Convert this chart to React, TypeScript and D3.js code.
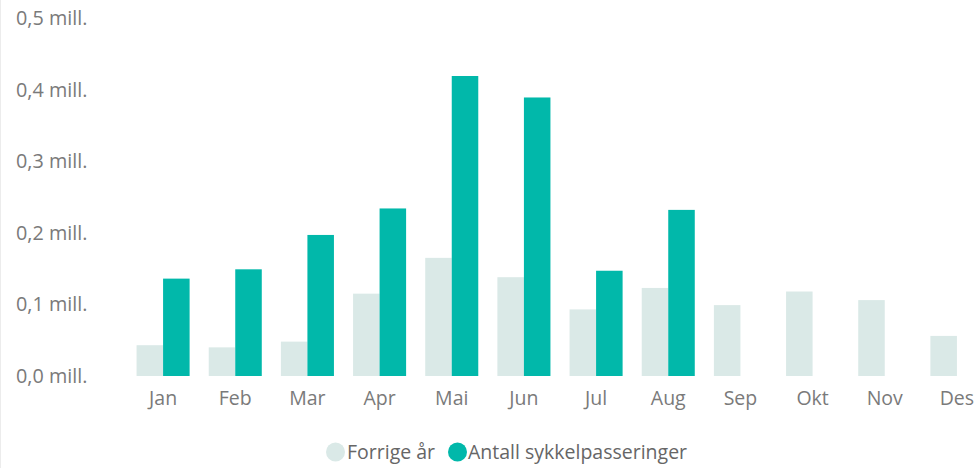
import React from 'react';
import * as d3 from 'd3';

const months = ['Jan', 'Feb', 'Mar', 'Apr', 'Mai', 'Jun', 'Jul', 'Aug', 'Sep', 'Okt', 'Nov', 'Des'];
// values in millions
const prevYear = [0.043, 0.040, 0.048, 0.115, 0.165, 0.138, 0.093, 0.123, 0.099, 0.118, 0.106, 0.056];
const current: (number | null)[] = [0.136, 0.149, 0.197, 0.234, 0.419, 0.389, 0.147, 0.232, null, null, null, null];
const yTicks = [0, 0.1, 0.2, 0.3, 0.4, 0.5];
const seriesNames = ['Forrige år', 'Antall sykkelpasseringer'];

const W = 979;
const H = 468;
const colPrev = '#dae9e7';
const colCur = '#01b8aa';
const font = '"Segoe UI", "Open Sans", sans-serif';

export default function App() {
  const x = d3.scaleBand<string>()
    .domain(months)
    .range([127, 993])
    .paddingInner(0.265)
    .paddingOuter(0.1325);

  const sub = d3.scaleBand<string>()
    .domain(['prev', 'cur'])
    .range([0, x.bandwidth()]);

  const y = d3.scaleLinear().domain([0, 0.5]).range([376, 18]);

  const fmt = (v: number) => v.toFixed(1).replace('.', ',') + ' mill.';

  return (
    <div style={{ position: 'fixed', left: 0, top: 0, width: W, height: H, background: '#fff' }}>
      <svg width={W} height={H} style={{ display: 'block', fontFamily: font }}>
        <line x1={0.5} y1={0} x2={0.5} y2={H} stroke="#ececec" />

        {/* y axis labels */}
        {yTicks.map(t => (
          <text key={t} x={16} y={y(t)} dy="0.35em" fontSize={19.8} fill="#7a7a7a">
            {fmt(t)}
          </text>
        ))}

        {/* previous year bars */}
        {months.map((m, i) => (
          <rect
            key={'p' + m}
            x={(x(m) || 0) + (sub('prev') || 0)}
            y={y(prevYear[i])}
            width={sub.bandwidth()}
            height={y(0) - y(prevYear[i])}
            fill={colPrev}
          />
        ))}

        {/* current bars */}
        {months.map((m, i) => {
          const v = current[i];
          if (v == null) return null;
          return (
            <rect
              key={'c' + m}
              x={(x(m) || 0) + (sub('cur') || 0)}
              y={y(v)}
              width={sub.bandwidth()}
              height={y(0) - y(v)}
              fill={colCur}
            />
          );
        })}

        {/* x axis labels */}
        {months.map(m => (
          <text
            key={'l' + m}
            x={(x(m) || 0) + x.bandwidth() / 2}
            y={405}
            textAnchor="middle"
            fontSize={19.5}
            fill="#7a7a7a"
          >
            {m}
          </text>
        ))}

        {/* legend */}
        <g>
          <circle cx={335.5} cy={452} r={9.5} fill={colPrev} />
          <text x={347} y={459} fontSize={19.5} fill="#666">{seriesNames[0]}</text>
          <circle cx={457.5} cy={452} r={9.5} fill={colCur} />
          <text x={468} y={459} fontSize={19.5} fill="#666">{seriesNames[1]}</text>
        </g>
      </svg>
    </div>
  );
}
